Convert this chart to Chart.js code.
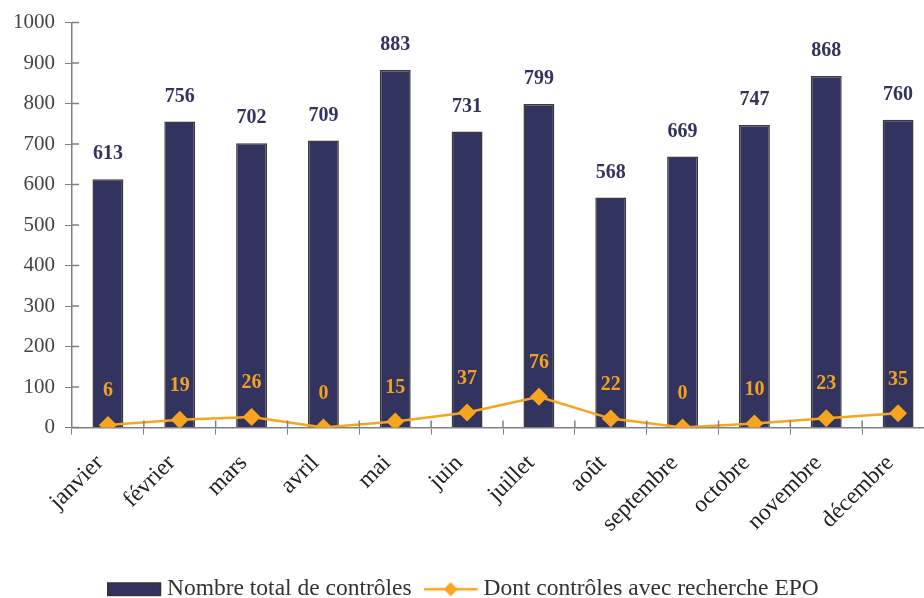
<!DOCTYPE html>
<html>
<head>
<meta charset="utf-8">
<script src="https://cdn.jsdelivr.net/npm/chart.js@4.4.0/dist/chart.umd.min.js"></script>
<style>
  html, body { margin: 0; padding: 0; overflow: hidden; background: #fff; }
</style>
</head>
<body>
<canvas id="controlsChart" width="950" height="611"></canvas>
<script>
// Data
const months = ['janvier', 'février', 'mars', 'avril', 'mai', 'juin', 'juillet', 'août', 'septembre', 'octobre', 'novembre', 'décembre'];
const totalControls = [613, 756, 702, 709, 883, 731, 799, 568, 669, 747, 868, 760];
const epoControls = [6, 19, 26, 0, 15, 37, 76, 22, 0, 10, 23, 35];
const yMin = 0, yMax = 1000, yStep = 100;

const NAVY = '#32335f';
const ORANGE = '#f7a51e';
const AXIS = '#808080';
const FONT = '"Liberation Serif", "Times New Roman", serif';

// Legend swatches (content drawn at the left of a slightly wider canvas)
function swatch(draw) {
    const c = document.createElement('canvas');
    c.width = 56; c.height = 16;
    draw(c.getContext('2d'));
    return c;
}
const barSwatch = swatch(g => {
    g.fillStyle = NAVY;
    g.fillRect(0, 1, 54, 14);
    g.strokeStyle = '#333';
    g.lineWidth = 1.5;
    g.strokeRect(0.75, 1.75, 52.5, 12.5);
});
const lineSwatch = swatch(g => {
    g.strokeStyle = ORANGE;
    g.lineWidth = 2.5;
    g.beginPath(); g.moveTo(0, 8); g.lineTo(54, 8); g.stroke();
    g.fillStyle = ORANGE;
    g.beginPath(); g.moveTo(27, 1); g.lineTo(34, 8); g.lineTo(27, 15); g.lineTo(20, 8); g.closePath(); g.fill();
});

// Value labels above bars and points
const valueLabels = {
    id: 'valueLabels',
    afterDatasetsDraw(chart) {
        const ctx = chart.ctx;
        chart.data.datasets.forEach((ds, i) => {
            const meta = chart.getDatasetMeta(i);
            ctx.save();
            ctx.font = 'bold 20px ' + FONT;
            ctx.fillStyle = ds.labelColor;
            ctx.textAlign = 'center';
            ctx.textBaseline = 'middle';
            meta.data.forEach((el, j) => {
                ctx.fillText(ds.data[j], el.x, el.y - ds.labelOffset);
            });
            ctx.restore();
        });
    }
};

// Tick marks that also cross into the plot area
const innerTicks = {
    id: 'innerTicks',
    afterDraw(chart) {
        const { ctx, scales: { x, y } } = chart;
        ctx.save();
        ctx.strokeStyle = AXIS;
        ctx.lineWidth = 1.5;
        ctx.beginPath();
        y.ticks.forEach((t, i) => {
            const py = y.getPixelForTick(i);
            ctx.moveTo(y.right, py); ctx.lineTo(y.right + 7, py);
        });
        const n = x.ticks.length;
        for (let i = 1; i < n; i++) {
            const px = x.left + i * (x.width / n);
            ctx.moveTo(px, x.top); ctx.lineTo(px, x.top - 7);
        }
        ctx.stroke();
        ctx.restore();
    }
};

new Chart(document.getElementById('controlsChart').getContext('2d'), {
    type: 'bar',
    data: {
        labels: months,
        datasets: [{
            type: 'bar',
            label: 'Nombre total de contrôles',
            data: totalControls,
            backgroundColor: NAVY,
            borderColor: '#3a3a3a',
            borderWidth: 1.5,
            barPercentage: 0.43,
            categoryPercentage: 1,
            order: 1,
            labelColor: NAVY,
            labelOffset: 25
        }, {
            type: 'line',
            label: 'Dont contrôles avec recherche EPO',
            data: epoControls,
            borderColor: ORANGE,
            backgroundColor: ORANGE,
            borderWidth: 2.5,
            pointStyle: 'rectRot',
            pointRadius: 9,
            pointBorderWidth: 0,
            tension: 0,
            order: 0,
            labelColor: '#f2a223',
            labelOffset: 34
        }]
    },
    options: {
        responsive: false,
        animation: false,
        layout: { padding: { top: 22, right: 16, left: 0, bottom: 0 } },
        plugins: {
            tooltip: { enabled: false },
            legend: {
                position: 'bottom',
                labels: {
                    usePointStyle: true,
                    pointStyleWidth: 40,
                    color: '#333',
                    font: { family: FONT, size: 23.5 },
                    padding: 20,
                    sort: (a, b) => a.datasetIndex - b.datasetIndex,
                    generateLabels: chart => Chart.defaults.plugins.legend.labels.generateLabels(chart)
                        .map(l => ({ ...l, pointStyle: l.datasetIndex === 0 ? barSwatch : lineSwatch }))
                }
            }
        },
        scales: {
            x: {
                grid: { offset: true, drawOnChartArea: false, tickLength: 7, color: AXIS },
                border: { color: AXIS, width: 1.5 },
                ticks: { minRotation: 45, maxRotation: 45, color: '#222', font: { family: FONT, size: 23.5 }, padding: 15, labelOffset: -8 },
                afterFit: scale => { scale.height = 130; }
            },
            y: {
                min: yMin,
                max: yMax,
                ticks: { stepSize: yStep, color: '#444', font: { family: FONT, size: 21 }, padding: 10, callback: v => String(v) },
                grid: { drawOnChartArea: false, tickLength: 7, color: AXIS },
                border: { color: AXIS, width: 1.5 },
                afterFit: scale => { scale.width = 72; }
            }
        }
    },
    plugins: [valueLabels, innerTicks]
});
</script>
</body>
</html>
